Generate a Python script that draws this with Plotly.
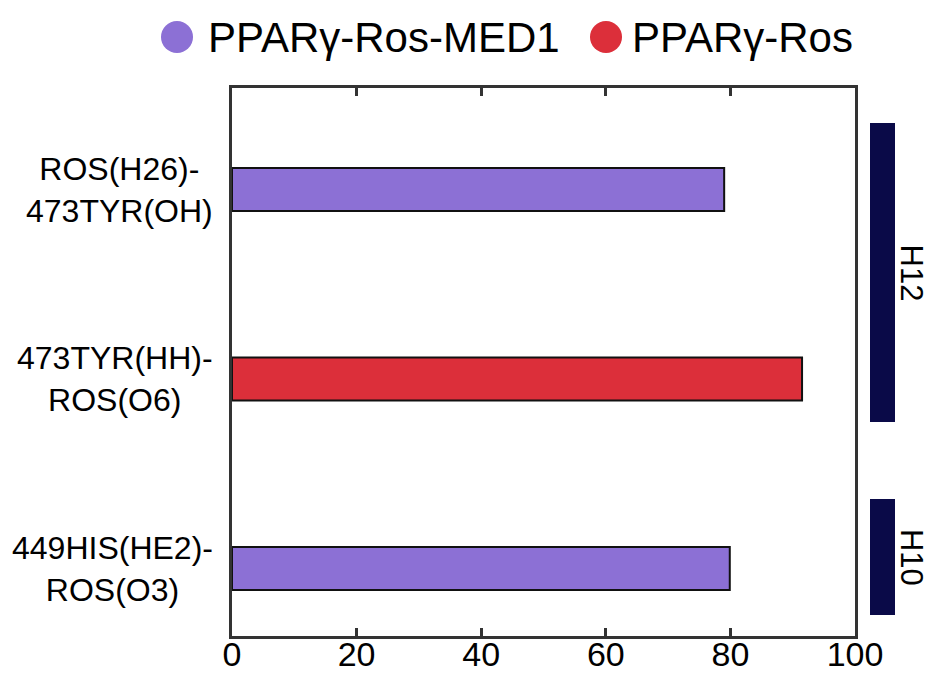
import plotly.graph_objects as go

# Hydrogen-bond occupancy (%) for each donor-acceptor pair
pairs = ["ROS(H26)-<br>473TYR(OH)", "473TYR(HH)-<br>ROS(O6)", "449HIS(HE2)-<br>ROS(O3)"]
med1_pairs = [pairs[0], pairs[2]]
med1_values = [79.0, 79.9]
ros_pairs = [pairs[1]]
ros_values = [91.5]

series_names = ["PPARγ-Ros-MED1", "PPARγ-Ros"]
x_ticks = [0, 20, 40, 60, 80, 100]

# Helix annotations on the right (start/end in category units)
helices = ["H12", "H10"]
helix_start = [-0.351, 1.633]
helix_end = [1.227, 2.245]

PURPLE = "#8C70D5"
RED = "#DC2F3A"
NAVY = "#0A0A48"
FRAME = "#333333"
FONT = "Liberation Sans, Arial, Helvetica, sans-serif"

W, H = 928, 677
ML, MR, MT, MB = 232, 73, 88, 41
PW, PH = W - ML - MR, H - MT - MB


def px_x(px):
    return (px - ML) / PW


def px_y(py):
    return (H - MB - py) / PH


fig = go.Figure()
fig.add_trace(go.Bar(
    y=med1_pairs, x=med1_values, orientation="h", width=0.227,
    marker=dict(color=PURPLE, line=dict(color="#111111", width=2)),
    name=series_names[0], showlegend=False,
))
fig.add_trace(go.Bar(
    y=ros_pairs, x=ros_values, orientation="h", width=0.227,
    marker=dict(color=RED, line=dict(color="#111111", width=2)),
    name=series_names[1], showlegend=False,
))

shapes = []
annotations = []

# Legend drawn as large dots with labels above the frame
legend_items = [
    (series_names[0], PURPLE, 161, 193, 206),
    (series_names[1], RED, 590, 622, 630),
]
for name, color, cx0, cx1, tx in legend_items:
    shapes.append(dict(
        type="circle", xref="paper", yref="paper",
        x0=px_x(cx0), x1=px_x(cx1), y0=px_y(53), y1=px_y(21),
        fillcolor=color, line=dict(width=0),
    ))
    annotations.append(dict(
        xref="paper", yref="paper", x=px_x(tx), y=px_y(37),
        xanchor="left", yanchor="middle", text=name, showarrow=False,
        font=dict(family=FONT, size=42, color="#000000"),
    ))

# Category labels, centred line by line
for p in pairs:
    annotations.append(dict(
        xref="paper", yref="y", x=px_x(215), y=p,
        xanchor="right", yanchor="middle", align="center",
        text=p, showarrow=False,
        font=dict(family=FONT, size=32, color="#000000"),
    ))

# Helix bars and their rotated labels
for name, s, e in zip(helices, helix_start, helix_end):
    shapes.append(dict(
        type="rect", xref="paper", yref="y",
        x0=px_x(870), x1=px_x(895), y0=s, y1=e,
        fillcolor=NAVY, line=dict(width=0),
    ))
    annotations.append(dict(
        xref="paper", yref="y", x=px_x(911), y=(s + e) / 2,
        xanchor="center", yanchor="middle", textangle=90,
        text=name, showarrow=False,
        font=dict(family=FONT, size=31, color="#000000"),
    ))

fig.update_layout(
    width=W, height=H,
    margin=dict(l=ML, r=MR, t=MT, b=MB, pad=0, autoexpand=False),
    paper_bgcolor="white", plot_bgcolor="white",
    barmode="overlay",
    shapes=shapes, annotations=annotations,
    font=dict(family=FONT, color="#000000"),
    xaxis=dict(
        range=[0, 100], tickvals=x_ticks, ticks="inside", ticklen=8,
        tickwidth=3, tickcolor=FRAME, showline=True, linewidth=3,
        linecolor=FRAME, mirror="ticks", showgrid=False, zeroline=False,
        automargin=False, ticklabelstandoff=-14,
        tickfont=dict(family=FONT, size=34, color="#000000"),
    ),
    yaxis=dict(
        type="category", categoryorder="array", categoryarray=pairs,
        range=[2.356, -0.536], showticklabels=False, ticks="",
        showline=True, linewidth=3, linecolor=FRAME, mirror=True,
        showgrid=False, zeroline=False, automargin=False,
    ),
)

fig.write_html("out.html")
